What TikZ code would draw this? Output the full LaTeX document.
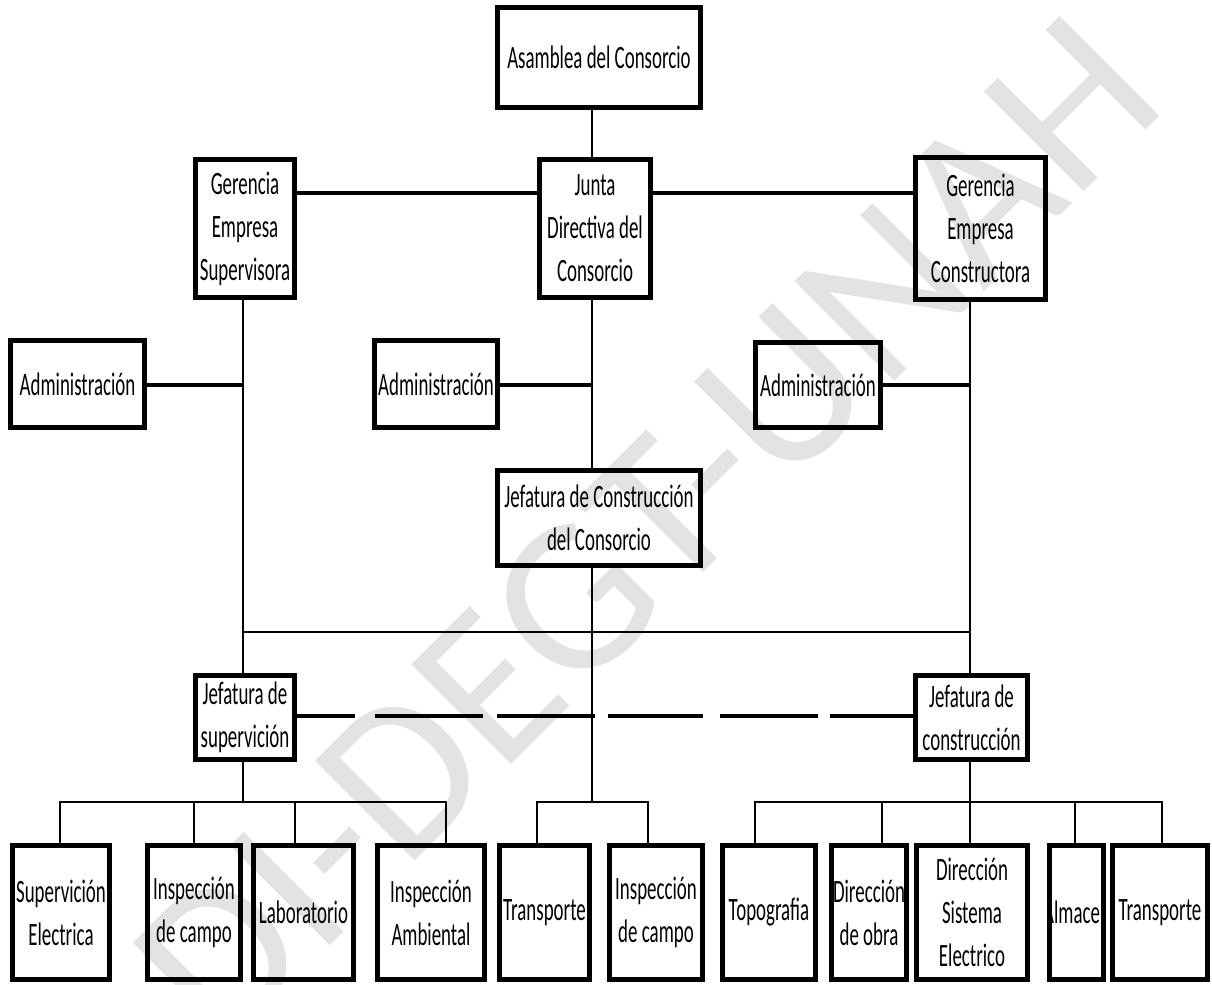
\documentclass[tikz,border=0pt]{standalone}
\usepackage{fontspec}
\setmainfont{Carlito}[FakeStretch=0.58]
\newfontfamily\wmfont{Carlito}
\newdimen\pxu \pxu=0.5pt
\begin{document}
\begin{tikzpicture}[x=0.5pt,y=-0.5pt,
  box/.style={draw, line width=2.5pt, rectangle, inner xsep=-20pt, inner ysep=0pt, align=center,
    font=\fontsize{16.3}{21.5}\selectfont},
  thin/.style={line width=1.4pt},
  thk/.style={line width=2pt},
  wmark/.style={text=black!11, font=\wmfont\fontsize{110}{110}\selectfont, inner sep=0pt}]
\useasboundingbox (0,0) rectangle (1212,985);
% watermark
\node[wmark, rotate=45, anchor=base west] (wm) at (222,1054) {DI-DEGT-UNAH};
% top
\node[box, minimum width=203\pxu, minimum height=100\pxu] (asam) at (599,57.5) {Asamblea del Consorcio};
\node[box, minimum width=99\pxu, minimum height=138\pxu] (gsup) at (245,228.5) {Gerencia\\Empresa\\Supervisora};
\node[box, minimum width=111\pxu, minimum height=138\pxu] (junta) at (595,228.5) {Junta\\Directiva del\\Consorcio};
\node[box, minimum width=130\pxu, minimum height=142\pxu] (gcon) at (980.5,228.5) {Gerencia\\Empresa\\Constructora};
\node[box, minimum width=134\pxu, minimum height=87\pxu] (adm1) at (77.5,384) {Administración};
\node[box, minimum width=123\pxu, minimum height=87\pxu] (adm2) at (436,384) {Administración};
\node[box, minimum width=125\pxu, minimum height=85\pxu] (adm3) at (818,385) {Administración};
\node[box, minimum width=203\pxu, minimum height=95\pxu] (jcc) at (599,518) {Jefatura de Construcción\\del Consorcio};
\node[box, minimum width=99\pxu, minimum height=84\pxu] (jsup) at (245,717.5) {Jefatura de\\supervición};
\node[box, minimum width=112\pxu, minimum height=84\pxu] (jcon) at (971.5,717.5) {Jefatura de\\construcción};
% bottom row
\node[box, minimum width=97\pxu, minimum height=134\pxu] (b1) at (61,912.5) {Supervición\\Electrica};
\node[box, minimum width=93\pxu, minimum height=134\pxu] (b2) at (194,912.5) {Inspección\\de campo};
\node[box, minimum width=100\pxu, minimum height=134\pxu] (b3) at (303.5,912.5) {Laboratorio};
\node[box, minimum width=107\pxu, minimum height=134\pxu] (b4) at (431,912.5) {Inspección\\Ambiental};
\node[box, minimum width=90\pxu, minimum height=134\pxu] (b5) at (544.5,912.5) {Transporte};
\node[box, minimum width=93\pxu, minimum height=134\pxu] (b6) at (656,912.5) {Inspección\\de campo};
\node[box, minimum width=93\pxu, minimum height=134\pxu] (b7) at (769,912.5) {Topografia};
\node[box, minimum width=75\pxu, minimum height=134\pxu] (b8) at (869,912.5) {Dirección\\de obra};
\node[box, minimum width=111\pxu, minimum height=134\pxu] (b9) at (972,912.5) {Dirección\\Sistema\\Electrico};
\node[box, minimum width=54\pxu, minimum height=134\pxu,
  path picture={\node[font=\fontsize{16.3}{21.5}\selectfont] at (path picture bounding box.center) {Almacen};}] (b10) at (1076.5,912.5) {};
\node[box, minimum width=95\pxu, minimum height=134\pxu] (b11) at (1160,912.5) {Transporte};
% reference coordinates
\coordinate (xL) at (243,0);
\coordinate (xC) at (592,0);
\coordinate (xR) at (970,0);
\coordinate (yG) at (0,193);
\coordinate (yA) at (0,385);
\coordinate (yH) at (0,632);
\coordinate (yD) at (0,716);
\coordinate (yB) at (0,802);
\coordinate (d1) at (60,802);
\coordinate (d2) at (194,802);
\coordinate (d3) at (295,802);
\coordinate (d4) at (446,802);
\coordinate (d5) at (537,802);
\coordinate (d6) at (648,802);
\coordinate (d7) at (755,802);
\coordinate (d8) at (882,802);
\coordinate (d9) at (970,802);
\coordinate (d10) at (1075,802);
\coordinate (d11) at (1162,802);
% connectors
\draw[thin] (asam.south -| xC) -- (junta.north -| xC);
\draw[thk] (gsup.east |- yG) -- (junta.west |- yG);
\draw[thk] (junta.east |- yG) -- (gcon.west |- yG);
\draw[thin] (gsup.south -| xL) -- (jsup.north -| xL);
\draw[thin] (junta.south -| xC) -- (jcc.north -| xC);
\draw[thin] (jcc.south -| xC) -- (xC |- yB);
\draw[thin] (gcon.south -| xR) -- (jcon.north -| xR);
\draw[thk] (adm1.east |- yA) -- (xL |- yA);
\draw[thk] (adm2.east |- yA) -- (xC |- yA);
\draw[thk] (adm3.east |- yA) -- (xR |- yA);
\draw[thin] (xL |- yH) -- (xR |- yH);
\draw[thk, dash pattern=on 29pt off 10pt on 54pt off 7pt on 49pt off 6.5pt on 47.5pt off 8.5pt on 49pt off 6pt on 41.5pt off 10pt]
  (jsup.east |- yD) -- (jcon.west |- yD);
\draw[thin] (jsup.south -| xL) -- (xL |- yB);
\draw[thin] (jcon.south -| xR) -- (xR |- yB);
% brackets
\draw[thin] (d1 |- b1.north) -- (d1) -- (d4) -- (d4 |- b4.north);
\draw[thin] (d2) -- (d2 |- b2.north);
\draw[thin] (d3) -- (d3 |- b3.north);
\draw[thin] (d5 |- b5.north) -- (d5) -- (d6) -- (d6 |- b6.north);
\draw[thin] (d7 |- b7.north) -- (d7) -- (d11) -- (d11 |- b11.north);
\draw[thin] (d8) -- (d8 |- b8.north);
\draw[thin] (d9) -- (d9 |- b9.north);
\draw[thin] (d10) -- (d10 |- b10.north);
\end{tikzpicture}
\end{document}
